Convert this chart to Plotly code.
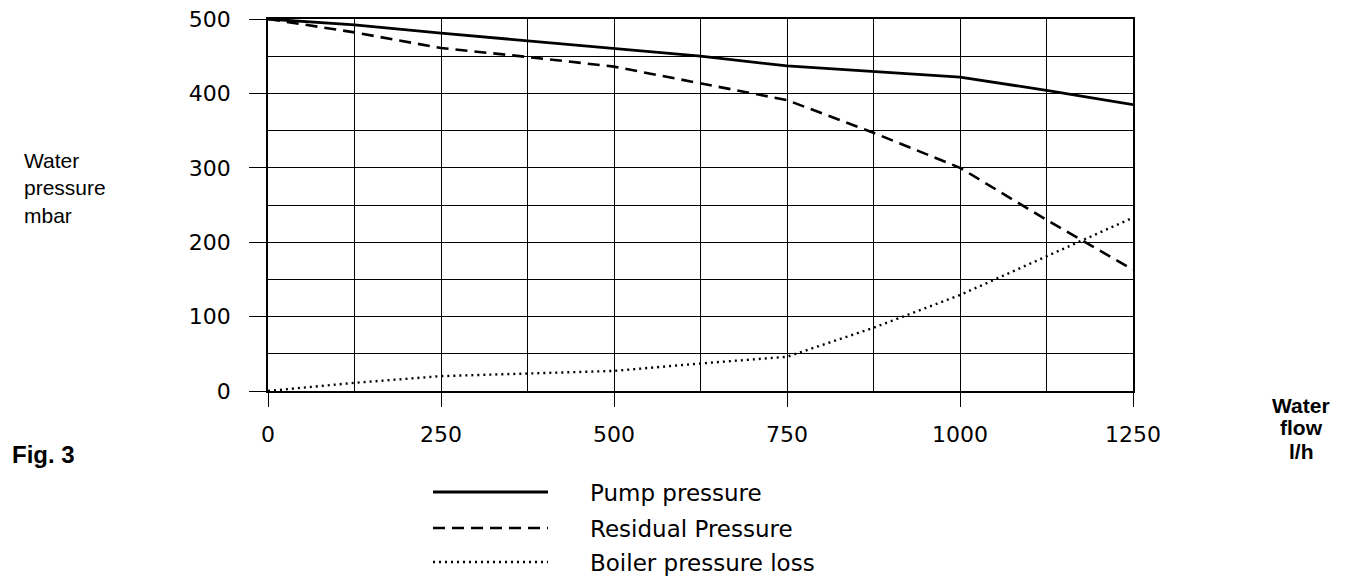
import plotly.graph_objects as go

flow = [0, 125, 250, 375, 500, 625, 750, 875, 1000, 1125, 1250]
pump_pressure = [500, 492, 481, 471, 460, 450, 437, 430, 422, 404, 385]
residual_pressure = [500, 482, 461, 449, 436, 413, 391, 347, 300, 230, 163]
boiler_loss = [0, 11, 20, 23, 27, 37, 46, 85, 129, 181, 233]

x_ticks = [0, 250, 500, 750, 1000, 1250]
y_ticks = [0, 100, 200, 300, 400, 500]

series_names = ["Pump pressure", "Residual Pressure", "Boiler pressure loss"]
flow_title = ["Water", "flow", "l/h"]

# page-pixel layout (the page body adds an 8px margin)
OFF = 8
L, R, T, B = 268, 1133, 19, 391
PAGE_W, PAGE_H = 1354, 582
W, H = PAGE_W - OFF, PAGE_H - OFF
pw, ph = R - L, B - T

def px(xp):
    return (xp - L) / pw

def py(yp):
    return (B - yp) / ph

styles = [
    dict(color="black", width=2.8, dash="solid"),
    dict(color="black", width=2.6, dash="12px,7px"),
    dict(color="black", width=2.4, dash="2px,4px"),
]

fig = go.Figure()
for name, ys, st in zip(series_names, [pump_pressure, residual_pressure, boiler_loss], styles):
    fig.add_trace(go.Scatter(x=flow, y=ys, mode="lines", name=name, line=st,
                             showlegend=False, hoverinfo="skip"))

tickfont = dict(family="DejaVu Sans", size=22, color="black")

fig.update_layout(
    width=W, height=H,
    margin=dict(l=L - OFF, r=PAGE_W - R, t=T - OFF, b=PAGE_H - B, pad=0, autoexpand=False),
    paper_bgcolor="white", plot_bgcolor="white",
    showlegend=False,
    xaxis=dict(range=[0, 1250], tickvals=x_ticks, ticktext=[str(v) for v in x_ticks],
               showgrid=True, gridcolor="black", gridwidth=1.2,
               minor=dict(dtick=125, tick0=0, showgrid=True, gridcolor="black", gridwidth=1.2, ticks=""),
               showline=True, linecolor="black", linewidth=1.5, mirror=True,
               ticks="outside", ticklen=14, tickcolor="black", tickwidth=1.2,
               tickfont=tickfont, ticklabelstandoff=9, ticklabeloverflow="allow",
               automargin=False, zeroline=False, fixedrange=True),
    yaxis=dict(range=[0, 500], tickvals=y_ticks, ticktext=[str(v) for v in y_ticks],
               showgrid=True, gridcolor="black", gridwidth=1.2,
               minor=dict(dtick=50, tick0=0, showgrid=True, gridcolor="black", gridwidth=1.2, ticks=""),
               showline=True, linecolor="black", linewidth=1.5, mirror=True,
               ticks="outside", ticklen=17, tickcolor="black", tickwidth=1.2,
               tickfont=tickfont, ticklabelstandoff=14, ticklabeloverflow="allow",
               automargin=False, zeroline=False, fixedrange=True),
)

# Custom legend below chart
legend_rows = [492, 528, 562]
for name, st, yp in zip(series_names, styles, legend_rows):
    fig.add_shape(type="line", xref="paper", yref="paper",
                  x0=px(433), x1=px(548), y0=py(yp), y1=py(yp),
                  line=dict(color="black", width=st["width"], dash=st["dash"]))
    fig.add_annotation(text=name, xref="paper", yref="paper", x=px(588), y=py(yp + 1),
                       xanchor="left", yanchor="middle", showarrow=False,
                       font=dict(family="DejaVu Sans", size=23, color="black"))

# Axis titles and figure label
fig.add_annotation(text="Water<br>pressure<br>mbar", xref="paper", yref="paper",
                   x=px(22), y=py(188), xanchor="left", yanchor="middle", align="left",
                   showarrow=False, font=dict(family="Liberation Sans", size=21, color="black"))
for txt, yp in zip(flow_title, [405, 428, 451]):
    fig.add_annotation(text="<b>" + txt + "</b>", xref="paper", yref="paper",
                       x=px(1301), y=py(yp), xanchor="center", yanchor="middle",
                       showarrow=False, font=dict(family="Liberation Sans", size=21, color="black"))
fig.add_annotation(text="<b>Fig. 3</b>", xref="paper", yref="paper",
                   x=px(10), y=py(454), xanchor="left", yanchor="middle",
                   showarrow=False, font=dict(family="Liberation Sans", size=24, color="black"))

fig.write_html("out.html")
